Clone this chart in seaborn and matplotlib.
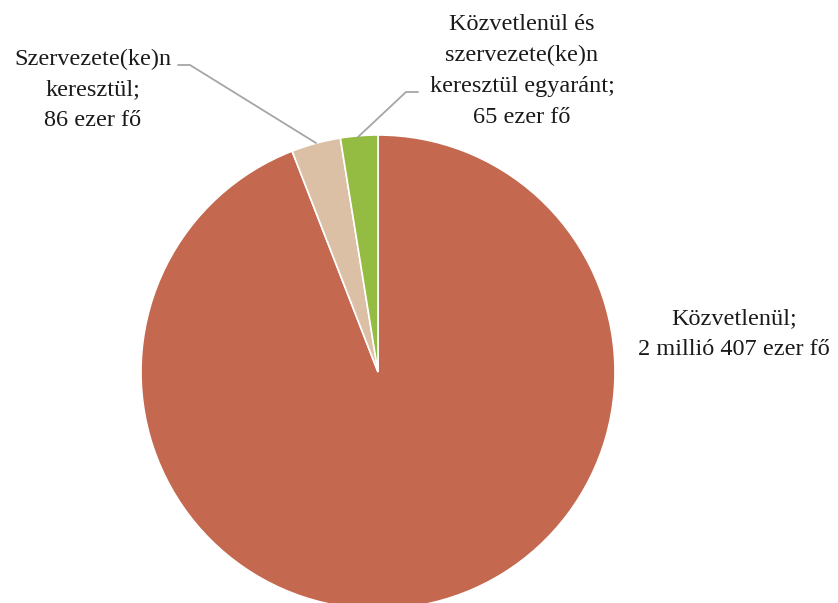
"""Pie chart: participants by channel (Hungarian)."""

import matplotlib
matplotlib.use("Agg")
import matplotlib.pyplot as plt
import seaborn as sns

LABELS = [
    "Közvetlenül;\n2 millió 407 ezer fő",
    "Szervezete(ke)n\nkeresztül;\n86 ezer fő",
    "Közvetlenül és\nszervezete(ke)n\nkeresztül egyaránt;\n65 ezer fő",
]
VALUES = [2407, 86, 65]
COLORS = ["#C4684F", "#DCC0A6", "#94BB42"]

sns.set_theme(style="white")
plt.rcParams["font.family"] = ["Liberation Serif", "DejaVu Serif"]

W, H = 838, 603
fig = plt.figure(figsize=(W / 100, H / 100), dpi=100)
ax = fig.add_axes([0, 0, 1, 1])

# pie drawn in pixel-like coords; y axis inverted so flip direction
cx, cy, r = 378, 372, 237
ax.pie(VALUES, colors=COLORS, startangle=-90, counterclock=True,
       center=(cx, cy), radius=r, frame=True,
       wedgeprops=dict(edgecolor="white", linewidth=1.2))
ax.set_xlim(0, W)
ax.set_ylim(H, 0)
ax.set_axis_off()

fs = 17.5
ls = 1.6
ax.text(734, 334, LABELS[0], ha="center", va="center", fontsize=fs,
        linespacing=ls, color="#1a1a1a")
ax.text(93, 90, LABELS[1], ha="center", va="center", fontsize=fs,
        linespacing=ls, color="#1a1a1a")
ax.text(522, 71, LABELS[2], ha="center", va="center", fontsize=fs,
        linespacing=ls, color="#1a1a1a")

# leader lines
ax.plot([178, 190, 316], [65, 65, 143], color="#A6A6A6", lw=1.3)
ax.plot([418, 406, 358], [92, 92, 137], color="#A6A6A6", lw=1.3)

fig.savefig("out.png", dpi=100)
plt.close(fig)
